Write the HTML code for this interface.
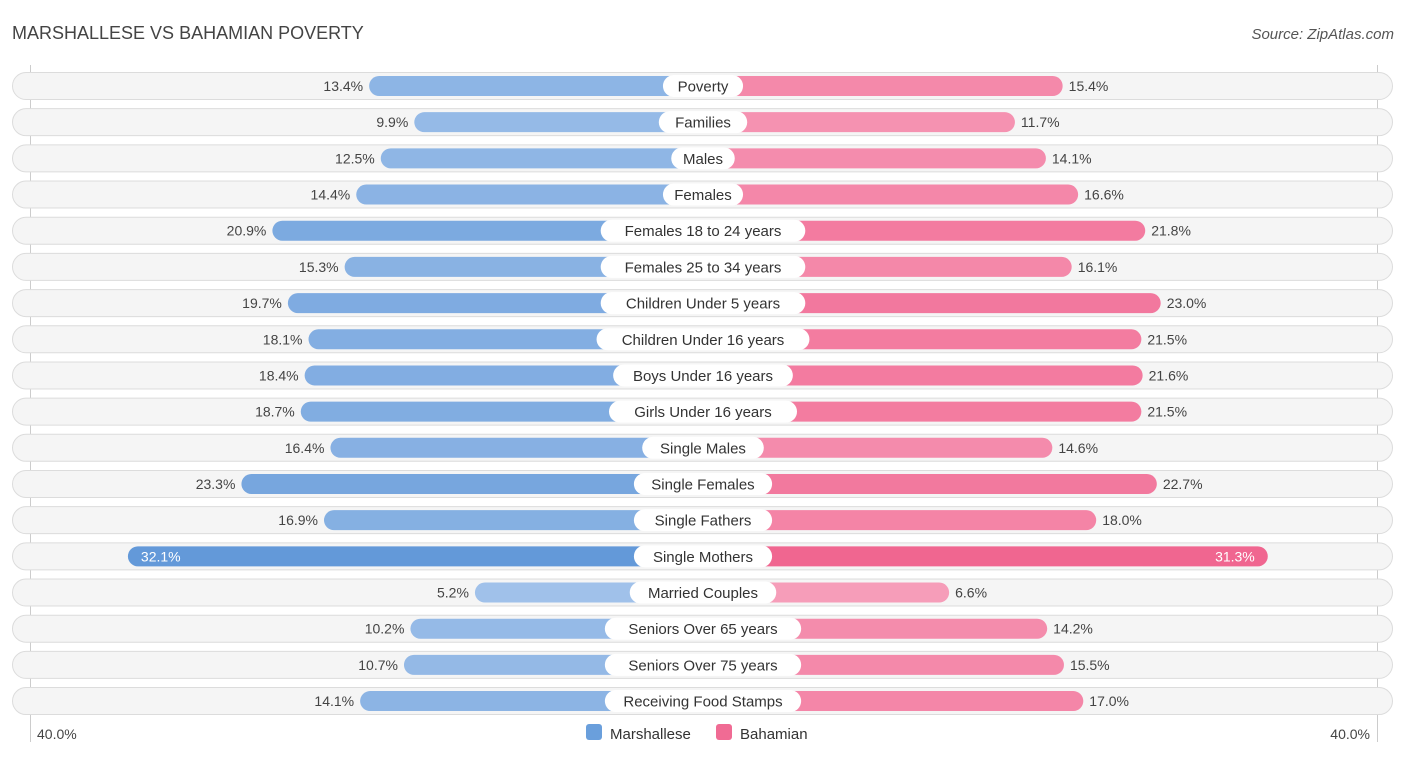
<!DOCTYPE html>
<html><head><meta charset="utf-8"><style>
body{margin:0;background:#fff;font-family:"Liberation Sans",sans-serif;}
svg{display:block}
</style></head><body>
<svg id="c" width="1406" height="758">
<text x="12" y="39" font-size="18" fill="#444">MARSHALLESE VS BAHAMIAN POVERTY</text>
<text x="1394" y="39" font-size="15" fill="#555" font-style="italic" text-anchor="end">Source: ZipAtlas.com</text>
<line x1="30.5" y1="65" x2="30.5" y2="742" stroke="#ccc"/>
<line x1="1377.5" y1="65" x2="1377.5" y2="742" stroke="#ccc"/>
<g id="rows"></g>
<text x="37" y="739" font-size="14" fill="#444">40.0%</text>
<text x="1370" y="739" font-size="14" fill="#444" text-anchor="end">40.0%</text>
<g>
<rect x="586" y="724" width="16" height="16" rx="3" fill="#6a9fdc"/>
<text x="610" y="739" font-size="15" fill="#333">Marshallese</text>
<rect x="716" y="724" width="16" height="16" rx="3" fill="#f06b94"/>
<text x="740" y="739" font-size="15" fill="#333">Bahamian</text>
</g>
</svg>
<script>
const categories=["Poverty","Families","Males","Females","Females 18 to 24 years","Females 25 to 34 years","Children Under 5 years","Children Under 16 years","Boys Under 16 years","Girls Under 16 years","Single Males","Single Females","Single Fathers","Single Mothers","Married Couples","Seniors Over 65 years","Seniors Over 75 years","Receiving Food Stamps"];
const marshallese=[13.4,9.9,12.5,14.4,20.9,15.3,19.7,18.1,18.4,18.7,16.4,23.3,16.9,32.1,5.2,10.2,10.7,14.1];
const bahamian=[15.4,11.7,14.1,16.6,21.8,16.1,23.0,21.5,21.6,21.5,14.6,22.7,18.0,31.3,6.6,14.2,15.5,17.0];
const NS="http://www.w3.org/2000/svg";
const g=document.getElementById('rows');
const cx=703,y0=86,step=36.18;
function len(v){return 161+v*12.9;}
function yPos(i){return y0+i*step;}
function mk(t,a){const e=document.createElementNS(NS,t);for(const k in a)e.setAttribute(k,a[k]);return e;}
function mix(c1,c2,t){return 'rgb('+c1.map((c,i)=>Math.round(c+(c2[i]-c)*t)).join(',')+')';}
categories.forEach((cat,i)=>{
  const y=yPos(i);
  const bg=mk('rect',{x:12.5,y:y-13.5,width:1380,height:27,rx:13.5,fill:'#f5f5f5',stroke:'#dcdcdc'});
  
  
  g.appendChild(bg);
  const m=marshallese[i],b=bahamian[i];
  const tm=Math.min(1,m/32),tb=Math.min(1,b/32);
  const lm=len(m),lb=len(b);
  const bm=mk('rect',{x:cx-lm,y:y-10,width:lm,height:20,rx:10,fill:mix([172,201,237],[99,153,217],tm)});
  
  
  g.appendChild(bm);
  const bb=mk('rect',{x:cx,y:y-10,width:lb,height:20,rx:10,fill:mix([248,172,196],[240,100,143],tb)});
  
  
  g.appendChild(bb);
  const strong=m>30;
  const vm=mk('text',{x:strong?cx-lm+13:cx-lm-6,y:y+5,'font-size':14,fill:strong?'#fff':'#444','text-anchor':strong?'start':'end'});
  vm.textContent=m.toFixed(1)+'%';
  
  
  g.appendChild(vm);
  const sb=b>30;
  const vb=mk('text',{x:sb?cx+lb-13:cx+lb+6,y:y+5,'font-size':14,fill:sb?'#fff':'#444','text-anchor':sb?'end':'start'});
  vb.textContent=b.toFixed(1)+'%';
  
  
  g.appendChild(vb);
  const w=cat.length*8.3+22;
  const lbg=mk('rect',{x:cx-w/2,y:y-11,width:w,height:22,rx:11,fill:'#fff'});
  
  
  g.appendChild(lbg);
  const lt=mk('text',{x:cx,y:y+5.5,'font-size':15,fill:'#333','text-anchor':'middle'});
  lt.textContent=cat;
  
  
  g.appendChild(lt);
});
</script>
</body></html>
